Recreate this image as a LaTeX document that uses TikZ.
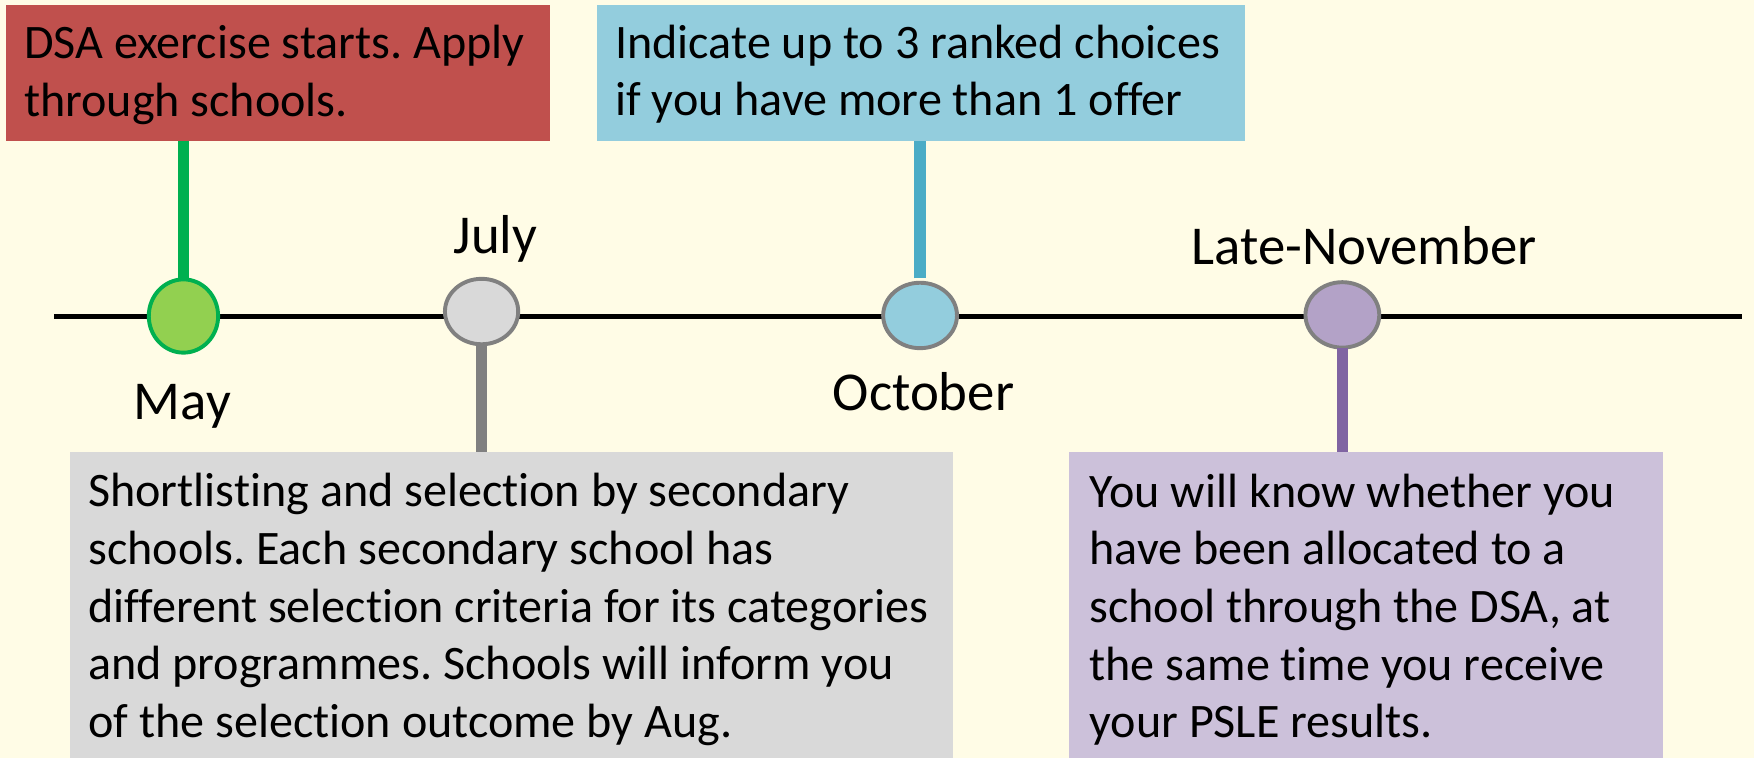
\documentclass[tikz,border=0pt]{standalone}
\usepackage{fontspec}
\setmainfont{Carlito}[Ligatures=CommonOff]
\usetikzlibrary{shapes.geometric}
\definecolor{bgc}{HTML}{FFFCE6}
\definecolor{redfill}{HTML}{C0504D}
\definecolor{bluefill}{HTML}{93CDDD}
\definecolor{bluestem}{HTML}{4BACC6}
\definecolor{greenstem}{HTML}{00B050}
\definecolor{greenfill}{HTML}{92D050}
\definecolor{grayfill}{HTML}{D9D9D9}
\definecolor{graystem}{HTML}{808080}
\definecolor{purplefill}{HTML}{B3A2C7}
\definecolor{purplestem}{HTML}{8064A2}
\definecolor{purplebox}{HTML}{CCC1DA}
\frenchspacing
\begin{document}
\begin{tikzpicture}[x=1pt,y=-1pt,
  panel/.style={rectangle, anchor=north west, inner sep=0pt, outer sep=0pt},
  paneltext/.style={anchor=north west, inner sep=0pt, outer sep=0pt, align=left,
    font=\fontsize{43}{51.5}\selectfont},
  month/.style={anchor=base, inner sep=0pt, font=\fontsize{49}{58}\selectfont},
  dot/.style={ellipse, draw=graystem, line width=3.5pt, inner sep=0pt, outer sep=0pt},
  stem/.style={line width=10pt},
  axis/.style={line width=4.2pt, black},
]
\fill[bgc] (0,0) rectangle (1568,677.6);
\useasboundingbox (0,0) rectangle (1568,677.6);

% panels
\node[panel, fill=redfill, minimum width=486.5pt, minimum height=121.3pt] (rbox) at (5,4.5) {};
\node[panel, fill=bluefill, minimum width=579.5pt, minimum height=121.3pt] (bbox) at (533.5,4.5) {};
\node[panel, fill=grayfill, minimum width=789.3pt, minimum height=273.1pt] (gbox) at (62.4,404.5) {};
\node[panel, fill=purplebox, minimum width=531pt, minimum height=273.1pt] (pbox) at (956,404.5) {};

\node[paneltext] (rtext) at ([shift={(16.5,12)}]rbox.north west)
  {\strut DSA exercise starts. Apply\\through schools.};
\node[paneltext] (btext) at ([shift={(16.5,11.5)}]bbox.north west)
  {\strut Indicate up to 3 ranked choices\\if you have more than 1 offer};
\node[paneltext] (gtext) at ([shift={(16.5,12.5)}]gbox.north west)
  {\strut Shortlisting and selection by secondary\\schools. Each secondary school has\\different selection criteria for its categories\\and programmes. Schools will inform you\\of the selection outcome by Aug.};
\node[paneltext] (ptext) at ([shift={(18,13)}]pbox.north west)
  {\strut You will know whether you\\have been allocated to a\\school through the DSA, at\\the same time you receive\\your PSLE results.};

% timeline
\coordinate (tl0) at (48.5,283);
\coordinate (tl1) at (1557.6,283);
\draw[axis] (tl0) -- (tl1);

% dots
\node[dot, fill=greenfill, draw=greenstem, minimum width=62pt, minimum height=65.5pt] (may) at (164,282.5) {};
\node[dot, fill=grayfill, minimum width=65.5pt, minimum height=58.5pt] (jul) at (430.5,278.5) {};
\node[dot, fill=bluefill, minimum width=66pt, minimum height=58.5pt] (oct) at (822.5,282) {};
\node[dot, fill=purplefill, minimum width=66pt, minimum height=58.5pt] (nov) at (1200,281.5) {};

% stems
\draw[stem, greenstem] (may.north) -- (may.north |- rbox.south);
\draw[stem, bluestem] ([yshift=4]oct.north) -- (oct.north |- bbox.south);
\draw[stem, graystem] (jul.south) -- (jul.south |- gbox.north);
\draw[stem, purplestem] (nov.south) -- (nov.south |- pbox.north);

% month labels
\node[month] (lmay) at (163,374.6) {May};
\node[month] (ljul) at (443,227) {July};
\node[month] (loct) at (825.5,367) {October};
\node[month] (lnov) at (1219.6,236) {Late-November};
\end{tikzpicture}
\end{document}
